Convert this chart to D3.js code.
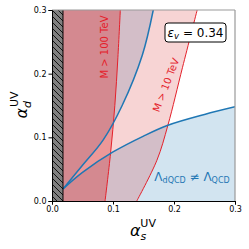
<!DOCTYPE html>
<html>
<head>
<meta charset="utf-8">
<script src="https://d3js.org/d3.v7.min.js"></script>
<style>
  body { margin: 0; background: #fff; }
  text { font-family: "DejaVu Sans", sans-serif; }
</style>
</head>
<body>
<script>
// curves, [alpha_s, alpha_d]
const upperBlue = [[0.018,0.019],[0.05,0.056],[0.084,0.096],[0.115,0.15],[0.148,0.229],[0.166,0.3]];
const lowerBlue = [[0.018,0.019],[0.05,0.045],[0.1,0.077],[0.15,0.102],[0.19,0.119],[0.25,0.136],[0.3,0.148]];
const m10 = [[0.139,0],[0.172,0.064],[0.19,0.119],[0.214,0.21],[0.238,0.3]];
const m100 = [[0.087,0],[0.096,0.075],[0.103,0.15],[0.108,0.225],[0.112,0.3]];
const hatchEdge = 0.018;
const ticks = [0, 0.1, 0.2, 0.3];

const W = 249, H = 249;
const margin = { top: 10, right: 14, bottom: 48, left: 52 };

const x = d3.scaleLinear().domain([0, 0.3]).range([margin.left, W - margin.right]);
const y = d3.scaleLinear().domain([0, 0.3]).range([H - margin.bottom, margin.top]);

const svg = d3.select("body").append("svg").attr("width", W).attr("height", H);

const defs = svg.append("defs");
defs.append("clipPath").attr("id", "clip").append("rect")
    .attr("x", x(0)).attr("y", y(0.3))
    .attr("width", x(0.3) - x(0)).attr("height", y(0) - y(0.3));
const pat = defs.append("pattern").attr("id", "hatch")
    .attr("patternUnits", "userSpaceOnUse").attr("width", 6).attr("height", 6);
pat.append("rect").attr("width", 6).attr("height", 6).attr("fill", "#808080");
pat.append("path").attr("d", "M-1,-1 L7,7 M-4,2 L2,8 M4,-2 L8,2")
    .attr("stroke", "#111").attr("stroke-width", 1);

const g = svg.append("g").attr("clip-path", "url(#clip)");

const lineXY = d3.line().x(d => x(d[0])).y(d => y(d[1])).curve(d3.curveCatmullRom);
const poly = pts => "M" + pts.map(d => x(d[0]) + "," + y(d[1])).join("L") + "Z";

// blue fills: below the lower curve and above the upper curve
g.append("path")
    .attr("d", lineXY(lowerBlue) + "L" + x(0.3) + "," + y(0) + "L" + x(hatchEdge) + "," + y(0) + "Z")
    .attr("fill", "#1f77b4").attr("fill-opacity", 0.2);
g.append("path")
    .attr("d", lineXY(upperBlue) + "L" + x(0) + "," + y(0.3) + "L" + x(0) + "," + y(upperBlue[0][1]) + "Z")
    .attr("fill", "#1f77b4").attr("fill-opacity", 0.2);

// M > 10 TeV (light) and M > 100 TeV (dark) exclusions
g.append("path")
    .attr("d", lineXY(m10) + "L" + x(0) + "," + y(0.3) + "L" + x(0) + "," + y(0) + "Z")
    .attr("fill", "#d62728").attr("fill-opacity", 0.2);
g.append("path")
    .attr("d", lineXY(m100) + "L" + x(0) + "," + y(0.3) + "L" + x(0) + "," + y(0) + "Z")
    .attr("fill", "#d62728").attr("fill-opacity", 0.35);

g.append("path").attr("d", lineXY(m10)).attr("fill", "none").attr("stroke", "#e4202a").attr("stroke-width", 1);
g.append("path").attr("d", lineXY(m100)).attr("fill", "none").attr("stroke", "#e4202a").attr("stroke-width", 1);

g.append("path").attr("d", lineXY(upperBlue)).attr("fill", "none").attr("stroke", "#1f77b4").attr("stroke-width", 1.5);
g.append("path").attr("d", lineXY(lowerBlue)).attr("fill", "none").attr("stroke", "#1f77b4").attr("stroke-width", 1.5);

// hatched strip
g.append("path")
    .attr("d", poly([[0, 0], [hatchEdge, 0], [hatchEdge, 0.3], [0, 0.3]]))
    .attr("fill", "url(#hatch)");
g.append("line")
    .attr("x1", x(hatchEdge)).attr("x2", x(hatchEdge)).attr("y1", y(0)).attr("y2", y(0.3))
    .attr("stroke", "#000").attr("stroke-width", 1);

// spines
svg.append("line").attr("x1", x(0)).attr("x2", x(0.3)).attr("y1", y(0.3)).attr("y2", y(0.3)).attr("stroke", "#999").attr("stroke-width", 1.2);
svg.append("line").attr("x1", x(0.3)).attr("x2", x(0.3)).attr("y1", y(0)).attr("y2", y(0.3)).attr("stroke", "#999").attr("stroke-width", 1.2);

const xAxis = svg.append("g").attr("transform", "translate(0," + y(0) + ")")
    .call(d3.axisBottom(x).tickValues(ticks).tickFormat(d3.format(".1f")).tickSize(3.5).tickPadding(2));
const yAxis = svg.append("g").attr("transform", "translate(" + x(0) + ",0)")
    .call(d3.axisLeft(y).tickValues(ticks).tickFormat(d3.format(".1f")).tickSize(3.5).tickPadding(2));
[xAxis, yAxis].forEach(a => {
  a.selectAll("text").attr("font-size", 8).attr("font-family", "DejaVu Sans").attr("fill", "#000");
  a.select(".domain").attr("stroke", "#000").attr("stroke-width", 1);
});

// labels
svg.append("text")
    .attr("transform", "translate(104,47) rotate(-90)")
    .attr("text-anchor", "middle").attr("dy", "0.35em")
    .attr("font-size", 10).attr("fill", "#e4202a")
    .text("M > 100 TeV");
svg.append("text")
    .attr("transform", "translate(166,85) rotate(-69)")
    .attr("text-anchor", "middle").attr("dy", "0.35em")
    .attr("font-size", 10).attr("fill", "#e4202a")
    .text("M > 10 TeV");

// epsilon box
svg.append("rect").attr("x", 165).attr("y", 23).attr("width", 61).attr("height", 19).attr("rx", 3)
    .attr("fill", "#fff").attr("stroke", "#000").attr("stroke-width", 1);
const eps = svg.append("text").attr("x", 195.5).attr("y", 37).attr("text-anchor", "middle").attr("font-size", 12);
eps.append("tspan").attr("font-style", "italic").text("ε");
eps.append("tspan").attr("font-style", "italic").attr("font-size", 8.5).attr("dy", 2).text("v");
eps.append("tspan").attr("dy", -2).text(" = 0.34");

// Lambda label
const lam = svg.append("text").attr("x", 192).attr("y", 181).attr("text-anchor", "middle")
    .attr("font-size", 12).attr("fill", "#1f77b4");
lam.append("tspan").text("Λ");
lam.append("tspan").attr("font-size", 8).attr("dy", 2).text("dQCD");
lam.append("tspan").attr("dy", -2).text(" ≠ ");
lam.append("tspan").text("Λ");
lam.append("tspan").attr("font-size", 8).attr("dy", 2).text("QCD");

// axis titles
const xt = svg.append("text").attr("x", 143).attr("y", 236).attr("text-anchor", "middle").attr("font-size", 16);
xt.append("tspan").attr("font-style", "italic").text("α");
xt.append("tspan").attr("font-style", "italic").attr("font-size", 11).attr("dy", 4).text("s");
xt.append("tspan").attr("font-size", 11).attr("dx", -6).attr("dy", -13).text("UV");

const yt = svg.append("text").attr("transform", "translate(27,105) rotate(-90)").attr("text-anchor", "middle").attr("font-size", 16);
yt.append("tspan").attr("font-style", "italic").text("α");
yt.append("tspan").attr("font-style", "italic").attr("font-size", 11).attr("dy", 4).text("d");
yt.append("tspan").attr("font-size", 11).attr("dx", -6).attr("dy", -13).text("UV");
</script>
</body>
</html>
